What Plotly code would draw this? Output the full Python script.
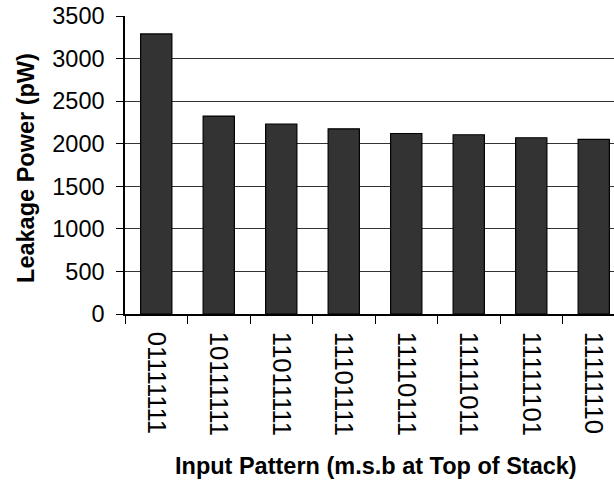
import plotly.graph_objects as go

# Leakage power for each input pattern (m.s.b. at top of stack)
patterns = ["01111111", "10111111", "11011111", "11101111",
            "11110111", "11111011", "11111101", "11111110"]
leakage_pw = [3290, 2325, 2230, 2175, 2120, 2105, 2070, 2050]
y_ticks = [0, 500, 1000, 1500, 2000, 2500, 3000, 3500]

FONT = "Arial, Liberation Sans, Helvetica, sans-serif"

fig = go.Figure(
    go.Bar(
        x=patterns,
        y=leakage_pw,
        width=0.5,
        marker=dict(color="#333333", line=dict(color="#000000", width=1.2)),
    )
)

fig.update_layout(
    width=614,
    height=482,
    margin=dict(l=125, r=0, t=16, b=168),
    paper_bgcolor="white",
    plot_bgcolor="white",
    showlegend=False,
    font=dict(family=FONT, color="black", size=23),
    annotations=[
        dict(text="<b>Leakage Power (pW)</b>", xref="paper", yref="paper",
             x=-0.2025, y=0.49, textangle=-90, showarrow=False,
             font=dict(size=23.5, family=FONT, color="black"),
             xanchor="center", yanchor="middle"),
        dict(text="<b>Input Pattern (m.s.b at Top of Stack)</b>", xref="paper",
             yref="paper", x=0.513, y=-0.51, showarrow=False,
             font=dict(size=23.5, family=FONT, color="black"),
             xanchor="center", yanchor="middle"),
    ],
)

fig.update_xaxes(
    type="category",
    range=[-0.5, 7.324],
    tickson="boundaries",
    ticks="outside",
    ticklen=8,
    tickwidth=1,
    tickcolor="black",
    tickangle=90,
    ticklabelstandoff=11,
    tickfont=dict(size=25.5, family=FONT, color="black"),
    showline=True,
    linecolor="black",
    linewidth=1.5,
    showgrid=False,
    zeroline=False,
)

fig.update_yaxes(
    range=[0, 3500],
    tickvals=y_ticks,
    ticktext=[str(v) for v in y_ticks],
    ticks="outside",
    ticklen=7,
    tickwidth=1,
    tickcolor="black",
    ticklabelstandoff=7,
    tickfont=dict(size=23.5, family=FONT, color="black"),
    showline=True,
    linecolor="black",
    linewidth=1.5,
    showgrid=True,
    gridcolor="#333333",
    gridwidth=1,
    zeroline=False,
)

fig.write_html("out.html")
